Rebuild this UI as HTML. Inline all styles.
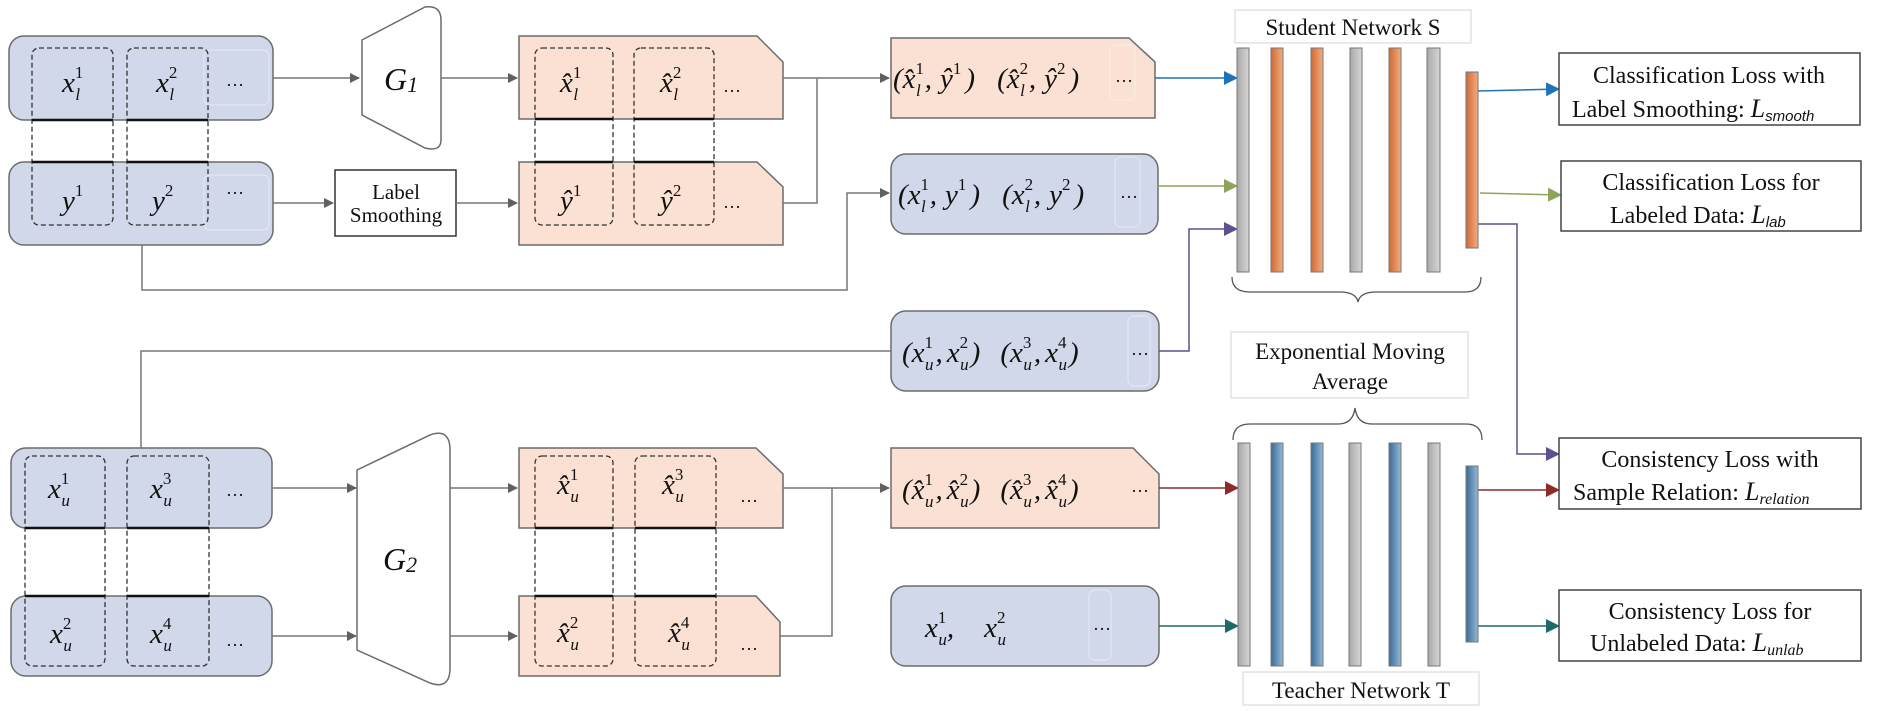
<!DOCTYPE html>
<html><head><meta charset="utf-8"><style>
html,body{margin:0;padding:0;background:#fff}
svg{display:block}
text{font-family:"Liberation Serif",serif;fill:#111}
.m{font-style:italic;font-size:29px}
.s{font-style:normal;font-size:17px}
.i{font-style:italic;font-size:17px}
</style></head><body>
<svg width="1878" height="711" viewBox="0 0 1878 711" xmlns="http://www.w3.org/2000/svg">
<defs>
<linearGradient id="go" x1="0" x2="1"><stop offset="0" stop-color="#cf6a33"/><stop offset="1" stop-color="#f2ad82"/></linearGradient>
<linearGradient id="gg" x1="0" x2="1"><stop offset="0" stop-color="#a9a9a9"/><stop offset="1" stop-color="#d6d6d6"/></linearGradient>
<linearGradient id="gb" x1="0" x2="1"><stop offset="0" stop-color="#3b6b96"/><stop offset="1" stop-color="#94b9d8"/></linearGradient>
<marker id="ag" markerWidth="10" markerHeight="10" refX="9" refY="5" orient="auto" markerUnits="userSpaceOnUse"><path d="M0,0 L10,5 L0,10z" fill="#606060"/></marker>
<marker id="ab" markerWidth="14" markerHeight="14" refX="13" refY="7" orient="auto" markerUnits="userSpaceOnUse"><path d="M0,0 L14,7 L0,14z" fill="#1f73b7"/></marker>
<marker id="agr" markerWidth="14" markerHeight="14" refX="13" refY="7" orient="auto" markerUnits="userSpaceOnUse"><path d="M0,0 L14,7 L0,14z" fill="#8fa35a"/></marker>
<marker id="ap" markerWidth="14" markerHeight="14" refX="13" refY="7" orient="auto" markerUnits="userSpaceOnUse"><path d="M0,0 L14,7 L0,14z" fill="#5e4f8f"/></marker>
<marker id="ar" markerWidth="14" markerHeight="14" refX="13" refY="7" orient="auto" markerUnits="userSpaceOnUse"><path d="M0,0 L14,7 L0,14z" fill="#8b2b2b"/></marker>
<marker id="at" markerWidth="14" markerHeight="14" refX="13" refY="7" orient="auto" markerUnits="userSpaceOnUse"><path d="M0,0 L14,7 L0,14z" fill="#1c6a6a"/></marker>
</defs>

<g stroke="#6b6b6b" stroke-width="1.5">
<rect x="9" y="36" width="264" height="84" rx="15" fill="#d0d8e9"/>
<rect x="9" y="162" width="264" height="83" rx="15" fill="#d0d8e9"/>
<path d="M362,40 L425,7 Q441,5 441,20 L441,140 Q441,152 425,148 L362,115 Z" fill="#fff"/>
<rect x="335" y="170" width="121" height="66" fill="#fff" stroke="#333"/>
<path d="M519,36 L757,36 L783,62 L783,119 L519,119 Z" fill="#fbe1d3"/>
<path d="M519,162 L757,162 L783,187 L783,245 L519,245 Z" fill="#fbe1d3"/>
<path d="M891,38 L1129,38 L1155,62 L1155,118 L891,118 Z" fill="#fbe1d3"/>
<rect x="891" y="154" width="267" height="80" rx="15" fill="#d0d8e9"/>
<rect x="891" y="311" width="268" height="80" rx="15" fill="#d0d8e9"/>
<path d="M891,448 L1133,448 L1159,474 L1159,528 L891,528 Z" fill="#fbe1d3"/>
<rect x="891" y="586" width="268" height="80" rx="15" fill="#d0d8e9"/>
<rect x="11" y="448" width="261" height="80" rx="15" fill="#d0d8e9"/>
<rect x="11" y="596" width="261" height="80" rx="15" fill="#d0d8e9"/>
<path d="M357,470 L430,435 Q450,428 450,450 L450,668 Q450,690 430,683 L357,650 Z" fill="#fff"/>
<path d="M519,448 L756,448 L783,474 L783,528 L519,528 Z" fill="#fbe1d3"/>
<path d="M519,596 L756,596 L780,622 L780,676 L519,676 Z" fill="#fbe1d3"/>
</g>

<g fill="none" stroke="#e6eaf2" stroke-width="1">
<rect x="204" y="50" width="65" height="55" rx="6"/><rect x="204" y="175" width="65" height="55" rx="6"/>
<rect x="1110" y="45" width="25" height="55" rx="6" stroke="#f5eee8"/><rect x="1115" y="157" width="25" height="70" rx="6"/>
<rect x="1128" y="316" width="22" height="70" rx="6"/><rect x="1089" y="590" width="22" height="70" rx="6"/>
</g>

<g fill="none" stroke="#333" stroke-width="1.3" stroke-dasharray="5,3">
<rect x="32" y="48" width="81" height="177" rx="7"/><rect x="127" y="48" width="81" height="177" rx="7"/>
<rect x="535" y="48" width="78" height="177" rx="7"/><rect x="634" y="48" width="80" height="177" rx="7"/>
<rect x="25" y="456" width="80" height="210" rx="7"/><rect x="127" y="456" width="82" height="210" rx="7"/>
<rect x="535" y="456" width="78" height="210" rx="7"/><rect x="635" y="456" width="81" height="210" rx="7"/>
</g>
<g stroke="#111" stroke-width="2.5">
<line x1="32" y1="120" x2="113" y2="120"/><line x1="127" y1="120" x2="208" y2="120"/>
<line x1="32" y1="162" x2="113" y2="162"/><line x1="127" y1="162" x2="208" y2="162"/>
<line x1="535" y1="119" x2="613" y2="119"/><line x1="634" y1="119" x2="714" y2="119"/>
<line x1="535" y1="162" x2="613" y2="162"/><line x1="634" y1="162" x2="714" y2="162"/>
<line x1="25" y1="528" x2="105" y2="528"/><line x1="127" y1="528" x2="209" y2="528"/>
<line x1="25" y1="596" x2="105" y2="596"/><line x1="127" y1="596" x2="209" y2="596"/>
<line x1="535" y1="528" x2="613" y2="528"/><line x1="635" y1="528" x2="716" y2="528"/>
<line x1="535" y1="596" x2="613" y2="596"/><line x1="635" y1="596" x2="716" y2="596"/>
</g>

<g fill="none" stroke="#777" stroke-width="1.5">
<line x1="273" y1="78" x2="359" y2="78" marker-end="url(#ag)"/>
<line x1="441" y1="78" x2="517" y2="78" marker-end="url(#ag)"/>
<line x1="273" y1="203" x2="333" y2="203" marker-end="url(#ag)"/>
<line x1="456" y1="203" x2="517" y2="203" marker-end="url(#ag)"/>
<polyline points="783,78 817,78 817,203 783,203"/>
<line x1="817" y1="78" x2="889" y2="78" marker-end="url(#ag)"/>
<polyline points="142,245 142,290 847,290 847,193 889,193" marker-end="url(#ag)"/>
<polyline points="141,448 141,351 891,351"/>
<line x1="272" y1="488" x2="356" y2="488" marker-end="url(#ag)"/>
<line x1="272" y1="636" x2="356" y2="636" marker-end="url(#ag)"/>
<line x1="450" y1="488" x2="517" y2="488" marker-end="url(#ag)"/>
<line x1="450" y1="636" x2="517" y2="636" marker-end="url(#ag)"/>
<polyline points="783,488 832,488 832,636 780,636"/>
<line x1="832" y1="488" x2="889" y2="488" marker-end="url(#ag)"/>
</g>
<g fill="none" stroke-width="1.5">
<line x1="1155" y1="78" x2="1237" y2="78" stroke="#1f73b7" marker-end="url(#ab)"/>
<line x1="1158" y1="186" x2="1237" y2="186" stroke="#8fa35a" marker-end="url(#agr)"/>
<polyline points="1159,351 1189,351 1189,229 1237,229" stroke="#5e4f8f" marker-end="url(#ap)"/>
<line x1="1159" y1="488" x2="1238" y2="488" stroke="#8b2b2b" marker-end="url(#ar)"/>
<line x1="1159" y1="626" x2="1238" y2="626" stroke="#1c6a6a" marker-end="url(#at)"/>
<line x1="1478" y1="91" x2="1559" y2="89" stroke="#1f73b7" marker-end="url(#ab)"/>
<line x1="1480" y1="193" x2="1561" y2="195" stroke="#8fa35a" marker-end="url(#agr)"/>
<polyline points="1478,224 1517,224 1517,454 1559,454" stroke="#5e4f8f" marker-end="url(#ap)"/>
<line x1="1478" y1="490" x2="1559" y2="490" stroke="#8b2b2b" marker-end="url(#ar)"/>
<line x1="1478" y1="626" x2="1559" y2="626" stroke="#1c6a6a" marker-end="url(#at)"/>
</g>

<g stroke="#777" stroke-width="1">
<rect x="1237" y="48" width="12" height="224" fill="url(#gg)"/>
<rect x="1271" y="48" width="12" height="224" fill="url(#go)"/>
<rect x="1311" y="48" width="12" height="224" fill="url(#go)"/>
<rect x="1350" y="48" width="12" height="224" fill="url(#gg)"/>
<rect x="1389" y="48" width="12" height="224" fill="url(#go)"/>
<rect x="1427" y="48" width="13" height="224" fill="url(#gg)"/>
<rect x="1466" y="72" width="12" height="176" fill="url(#go)"/>
<rect x="1238" y="443" width="12" height="223" fill="url(#gg)"/>
<rect x="1271" y="443" width="12" height="223" fill="url(#gb)"/>
<rect x="1311" y="443" width="12" height="223" fill="url(#gb)"/>
<rect x="1349" y="443" width="12" height="223" fill="url(#gg)"/>
<rect x="1389" y="443" width="12" height="223" fill="url(#gb)"/>
<rect x="1428" y="443" width="12" height="223" fill="url(#gg)"/>
<rect x="1466" y="466" width="12" height="176" fill="url(#gb)"/>
</g>
<g fill="none" stroke="#555" stroke-width="1.3">
<path d="M1232,277 Q1232,292 1250,292 L1340,292 Q1356,292 1358,302 Q1360,292 1376,292 L1465,292 Q1481,292 1481,277"/>
<path d="M1233,440 Q1233,424 1250,424 L1338,424 Q1353,424 1355,408 Q1357,424 1372,424 L1466,424 Q1482,424 1482,440"/>
</g>
<g fill="#fff" stroke="#ddd" stroke-width="1.2">
<rect x="1235" y="10" width="236" height="33"/>
<rect x="1231" y="332" width="237" height="66"/>
<rect x="1243" y="672" width="236" height="33"/>
</g>
<g fill="#fff" stroke="#444" stroke-width="1.5">
<rect x="1559" y="53" width="301" height="72"/>
<rect x="1561" y="161" width="300" height="70"/>
<rect x="1559" y="438" width="302" height="71"/>
<rect x="1559" y="590" width="302" height="71"/>
</g>

<g font-size="23" text-anchor="middle">
<text x="1353" y="35">Student Network S</text>
<text x="1350" y="359">Exponential Moving</text>
<text x="1350" y="389">Average</text>
<text x="1361" y="698">Teacher Network T</text>
<text x="396" y="199" font-size="21">Label</text>
<text x="396" y="222" font-size="21">Smoothing</text>
</g>
<g font-size="24">
<text x="1709" y="83" text-anchor="middle">Classification Loss with</text>
<text x="1572" y="117">Label Smoothing: <tspan font-style="italic" font-size="26">L</tspan><tspan font-family="Liberation Sans" font-style="italic" font-size="15" dy="4">smooth</tspan></text>
<text x="1711" y="190" text-anchor="middle">Classification Loss for</text>
<text x="1610" y="223">Labeled Data: <tspan font-style="italic" font-size="26">L</tspan><tspan font-family="Liberation Sans" font-style="italic" font-size="15" dy="4">lab</tspan></text>
<text x="1710" y="467" text-anchor="middle">Consistency Loss with</text>
<text x="1573" y="500">Sample Relation: <tspan font-style="italic" font-size="26">L</tspan><tspan font-style="italic" font-size="16" dy="4">relation</tspan></text>
<text x="1710" y="619" text-anchor="middle">Consistency Loss for</text>
<text x="1590" y="651">Unlabeled Data: <tspan font-style="italic" font-size="26">L</tspan><tspan font-style="italic" font-size="16" dy="4">unlab</tspan></text>
</g>

<text x="384" y="90" font-size="32" font-style="italic">G<tspan font-size="22" dy="2">1</tspan></text>
<text x="383" y="570" font-size="32" font-style="italic">G<tspan font-size="22" dy="2">2</tspan></text>

<g class="m">
<text x="62" y="92">x<tspan class="s" dy="-14">1</tspan><tspan class="i" dx="-8" dy="22">l</tspan></text>
<text x="156" y="92">x<tspan class="s" dy="-14">2</tspan><tspan class="i" dx="-8" dy="22">l</tspan></text>
<text x="62" y="210">y<tspan class="s" dy="-14">1</tspan></text>
<text x="152" y="210">y<tspan class="s" dy="-14">2</tspan></text>
<text x="560" y="92">x̂<tspan class="s" dy="-14">1</tspan><tspan class="i" dx="-8" dy="22">l</tspan></text>
<text x="660" y="92">x̂<tspan class="s" dy="-14">2</tspan><tspan class="i" dx="-8" dy="22">l</tspan></text>
<text x="560" y="210">ŷ<tspan class="s" dy="-14">1</tspan></text>
<text x="660" y="210">ŷ<tspan class="s" dy="-14">2</tspan></text>
<text x="48" y="498">x<tspan class="s" dy="-14">1</tspan><tspan class="i" dx="-8" dy="22">u</tspan></text>
<text x="150" y="498">x<tspan class="s" dy="-14">3</tspan><tspan class="i" dx="-8" dy="22">u</tspan></text>
<text x="50" y="643">x<tspan class="s" dy="-14">2</tspan><tspan class="i" dx="-8" dy="22">u</tspan></text>
<text x="150" y="643">x<tspan class="s" dy="-14">4</tspan><tspan class="i" dx="-8" dy="22">u</tspan></text>
<text x="557" y="494">x̂<tspan class="s" dy="-14">1</tspan><tspan class="i" dx="-8" dy="22">u</tspan></text>
<text x="662" y="494">x̂<tspan class="s" dy="-14">3</tspan><tspan class="i" dx="-8" dy="22">u</tspan></text>
<text x="557" y="642">x̂<tspan class="s" dy="-14">2</tspan><tspan class="i" dx="-8" dy="22">u</tspan></text>
<text x="668" y="642">x̂<tspan class="s" dy="-14">4</tspan><tspan class="i" dx="-8" dy="22">u</tspan></text>
<text x="893" y="88">(x̂<tspan class="s" dy="-14">1</tspan><tspan class="i" dx="-8" dy="22">l</tspan><tspan dx="4" dy="-8">,</tspan><tspan dx="8">ŷ</tspan><tspan class="s" dy="-14">1</tspan><tspan dx="4" dy="14">)</tspan><tspan dx="22">(x̂</tspan><tspan class="s" dy="-14">2</tspan><tspan class="i" dx="-8" dy="22">l</tspan><tspan dx="4" dy="-8">,</tspan><tspan dx="8">ŷ</tspan><tspan class="s" dy="-14">2</tspan><tspan dx="4" dy="14">)</tspan></text>
<text x="898" y="204">(x<tspan class="s" dy="-14">1</tspan><tspan class="i" dx="-8" dy="22">l</tspan><tspan dx="4" dy="-8">,</tspan><tspan dx="8">y</tspan><tspan class="s" dy="-14">1</tspan><tspan dx="4" dy="14">)</tspan><tspan dx="22">(x</tspan><tspan class="s" dy="-14">2</tspan><tspan class="i" dx="-8" dy="22">l</tspan><tspan dx="4" dy="-8">,</tspan><tspan dx="8">y</tspan><tspan class="s" dy="-14">2</tspan><tspan dx="4" dy="14">)</tspan></text>
<text x="902" y="362">(x<tspan class="s" dy="-14">1</tspan><tspan class="i" dx="-8" dy="22">u</tspan><tspan dx="2" dy="-8">,</tspan><tspan dx="4">x</tspan><tspan class="s" dy="-14">2</tspan><tspan class="i" dx="-8" dy="22">u</tspan><tspan dx="2" dy="-8">)</tspan><tspan dx="20">(x</tspan><tspan class="s" dy="-14">3</tspan><tspan class="i" dx="-8" dy="22">u</tspan><tspan dx="2" dy="-8">,</tspan><tspan dx="4">x</tspan><tspan class="s" dy="-14">4</tspan><tspan class="i" dx="-8" dy="22">u</tspan><tspan dx="2" dy="-8">)</tspan></text>
<text x="902" y="499">(x̂<tspan class="s" dy="-14">1</tspan><tspan class="i" dx="-8" dy="22">u</tspan><tspan dx="2" dy="-8">,</tspan><tspan dx="4">x̂</tspan><tspan class="s" dy="-14">2</tspan><tspan class="i" dx="-8" dy="22">u</tspan><tspan dx="2" dy="-8">)</tspan><tspan dx="20">(x̂</tspan><tspan class="s" dy="-14">3</tspan><tspan class="i" dx="-8" dy="22">u</tspan><tspan dx="2" dy="-8">,</tspan><tspan dx="4">x̂</tspan><tspan class="s" dy="-14">4</tspan><tspan class="i" dx="-8" dy="22">u</tspan><tspan dx="2" dy="-8">)</tspan></text>
<text x="925" y="637">x<tspan class="s" dy="-14">1</tspan><tspan class="i" dx="-8" dy="22">u</tspan><tspan dy="-8">,</tspan><tspan dx="30">x</tspan><tspan class="s" dy="-14">2</tspan><tspan class="i" dx="-8" dy="22">u</tspan></text>
</g>
<g font-size="18" fill="#333">
<text x="226" y="86">…</text><text x="226" y="194">…</text>
<text x="723" y="92">…</text><text x="723" y="208">…</text>
<text x="1115" y="82">…</text><text x="1120" y="198">…</text>
<text x="1131" y="355">…</text><text x="1131" y="492">…</text><text x="1093" y="630">…</text>
<text x="226" y="496">…</text><text x="226" y="646">…</text>
<text x="740" y="502">…</text><text x="740" y="650">…</text>
</g>
</svg>
</body></html>
